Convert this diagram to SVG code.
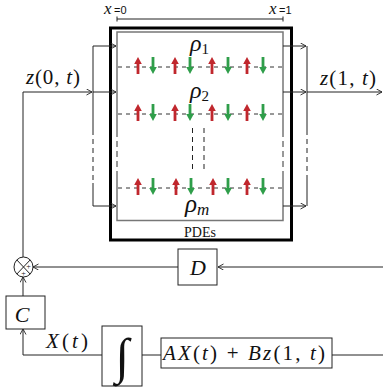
<svg xmlns="http://www.w3.org/2000/svg" width="383" height="392" viewBox="0 0 383 392">
<defs>
<marker id="ah" markerWidth="7" markerHeight="7" refX="6" refY="3" orient="auto" markerUnits="userSpaceOnUse">
<path d="M0.5,0 L6,3 L0.5,6" fill="none" stroke="#222" stroke-width="0.9"/>
</marker>
<g id="up"><rect x="-1.4" y="-4" width="2.8" height="11" fill="#c0272d"/><path d="M-3.8,-3 L0,-10 L3.8,-3 Z" fill="#c0272d"/></g>
<g id="dn"><rect x="-1.4" y="-10" width="2.8" height="11" fill="#2f9e4a"/><path d="M-3.8,0 L0,7 L3.8,0 Z" fill="#2f9e4a"/></g>
</defs>
<style>
.c{fill:none;stroke:#222;stroke-width:1}
.cd{fill:none;stroke:#222;stroke-width:1;stroke-dasharray:5 4}
.b{fill:#fff;stroke:#222;stroke-width:1}
.row{fill:none;stroke:#333;stroke-width:1;stroke-dasharray:4 4}
text{font-family:'Liberation Serif','Times New Roman',serif;fill:#111}
.m{font-style:italic}
.r{font-style:normal}
</style>
<rect width="383" height="392" fill="#fff"/>

<g id="measure">
<path class="c" d="M117,19 H283 M117,16.5 V21.5 M283,16.5 V21.5"/>
<text x="104" y="14" class="m" font-size="17">x</text><text x="114" y="14" style="font-family:'Liberation Sans',sans-serif" font-size="11">=0</text>
<text x="269" y="14" class="m" font-size="17">x</text><text x="279" y="14" style="font-family:'Liberation Sans',sans-serif" font-size="11">=1</text>
</g>

<g id="pdes">
<rect x="110.5" y="28" width="181" height="212" fill="none" stroke="#000" stroke-width="3"/>
<path d="M117,131 V32 H283 V131 M117,175 V220.5 H283 V175" fill="none" stroke="#777" stroke-width="1.5"/>
<path d="M117,131 V175 M283,131 V175" fill="none" stroke="#777" stroke-width="1.5" stroke-dasharray="6 4"/>
<text x="200" y="237" class="r" font-size="14" text-anchor="middle">PDEs</text>
</g>

<g id="row1">
<path class="row" d="M118,67 H283"/>
<use href="#up" x="138" y="67"/><use href="#dn" x="153" y="67"/>
<use href="#up" x="175" y="67"/><use href="#dn" x="190" y="67"/>
<use href="#up" x="212" y="67"/><use href="#dn" x="228" y="67"/>
<use href="#up" x="247" y="67"/><use href="#dn" x="263" y="67"/>
<text x="190" y="51" class="m" font-size="24">ρ<tspan class="r" font-size="15" dy="3">1</tspan></text>
</g>
<g id="row2">
<path class="row" d="M118,114 H283"/>
<use href="#up" x="138" y="114"/><use href="#dn" x="153" y="114"/>
<use href="#up" x="175" y="114"/><use href="#dn" x="190" y="114"/>
<use href="#up" x="212" y="114"/><use href="#dn" x="228" y="114"/>
<use href="#up" x="247" y="114"/><use href="#dn" x="263" y="114"/>
<text x="190" y="98" class="m" font-size="24">ρ<tspan class="r" font-size="15" dy="3">2</tspan></text>
</g>
<g id="rowdots">
<path class="cd" d="M192.5,128 V173 M204,128 V173" stroke-dasharray="6 4"/>
</g>
<g id="rowm">
<path class="row" d="M118,188 H283"/>
<use href="#up" x="138" y="188"/><use href="#dn" x="153" y="188"/>
<use href="#up" x="176" y="188"/><use href="#dn" x="191" y="188"/>
<use href="#up" x="213" y="188"/><use href="#dn" x="228" y="188"/>
<use href="#up" x="247" y="188"/><use href="#dn" x="263" y="188"/>
<text x="185" y="212" class="m" font-size="25">ρ<tspan font-size="17" dy="3">m</tspan></text>
</g>

<g id="connectors">
<path class="c" d="M23,257 V92 H92" marker-end="url(#ah)"/>
<path class="c" d="M93,46 V130 M93,183 V206"/>
<path class="cd" d="M93,130 V183"/>
<path class="c" d="M93,46 H116" marker-end="url(#ah)"/>
<path class="c" d="M93,92 H116" marker-end="url(#ah)"/>
<path class="c" d="M93,206 H116" marker-end="url(#ah)"/>
<path class="c" d="M283,46 H306" marker-end="url(#ah)"/>
<path class="c" d="M283,92 H306" marker-end="url(#ah)"/>
<path class="c" d="M283,206 H306" marker-end="url(#ah)"/>
<path class="c" d="M307,46 V130 M307,177 V206"/>
<path class="cd" d="M307,130 V177"/>
<path class="c" d="M307,92 H382" marker-end="url(#ah)"/>
<path class="c" d="M383,267 H218" marker-end="url(#ah)"/>
<path class="c" d="M178,267 H33" marker-end="url(#ah)"/>
<path class="c" d="M23,296 V277" marker-end="url(#ah)"/>
<path class="c" d="M102,355 H23 V329" marker-end="url(#ah)"/>
<path class="c" d="M142,355 H161"/>
<path class="c" d="M332,355 H383"/>
<text x="26" y="84" class="m" font-size="21" textLength="54">z<tspan class="r">(0, </tspan>t<tspan class="r">)</tspan></text>
<text x="320" y="85" class="m" font-size="21" textLength="56">z<tspan class="r">(1, </tspan>t<tspan class="r">)</tspan></text>
<text x="46" y="348" class="m" font-size="21" textLength="42">X<tspan class="r">(</tspan>t<tspan class="r">)</tspan></text>
</g>

<g id="sum">
<ellipse cx="23.5" cy="267" rx="9.5" ry="10" fill="#fff" stroke="#222" stroke-width="1"/>
<path class="c" d="M16.8,259.9 L30.2,274.1 M30.2,259.9 L16.8,274.1"/>
<text x="28.5" y="269" class="r" font-size="8" text-anchor="middle">+</text>
<text x="23.5" y="276" class="r" font-size="8" text-anchor="middle">+</text>
</g>

<g id="D">
<rect class="b" x="178" y="249" width="39" height="36"/>
<text x="198" y="275" class="m" font-size="22" text-anchor="middle">D</text>
</g>
<g id="C">
<rect class="b" x="6" y="296" width="39" height="33"/>
<text x="22" y="322" class="m" font-size="22" text-anchor="middle">C</text>
</g>
<g id="integrator">
<rect class="b" x="102" y="326" width="40" height="60"/>
<text x="122" y="373" class="r" font-size="50" text-anchor="middle">∫</text>
</g>
<g id="dyn">
<rect class="b" x="161" y="338" width="171" height="30"/>
<text x="163" y="360" class="m" font-size="21" textLength="162">AX<tspan class="r">(</tspan>t<tspan class="r">) + </tspan>Bz<tspan class="r">(1, </tspan>t<tspan class="r">)</tspan></text>
</g>
</svg>
